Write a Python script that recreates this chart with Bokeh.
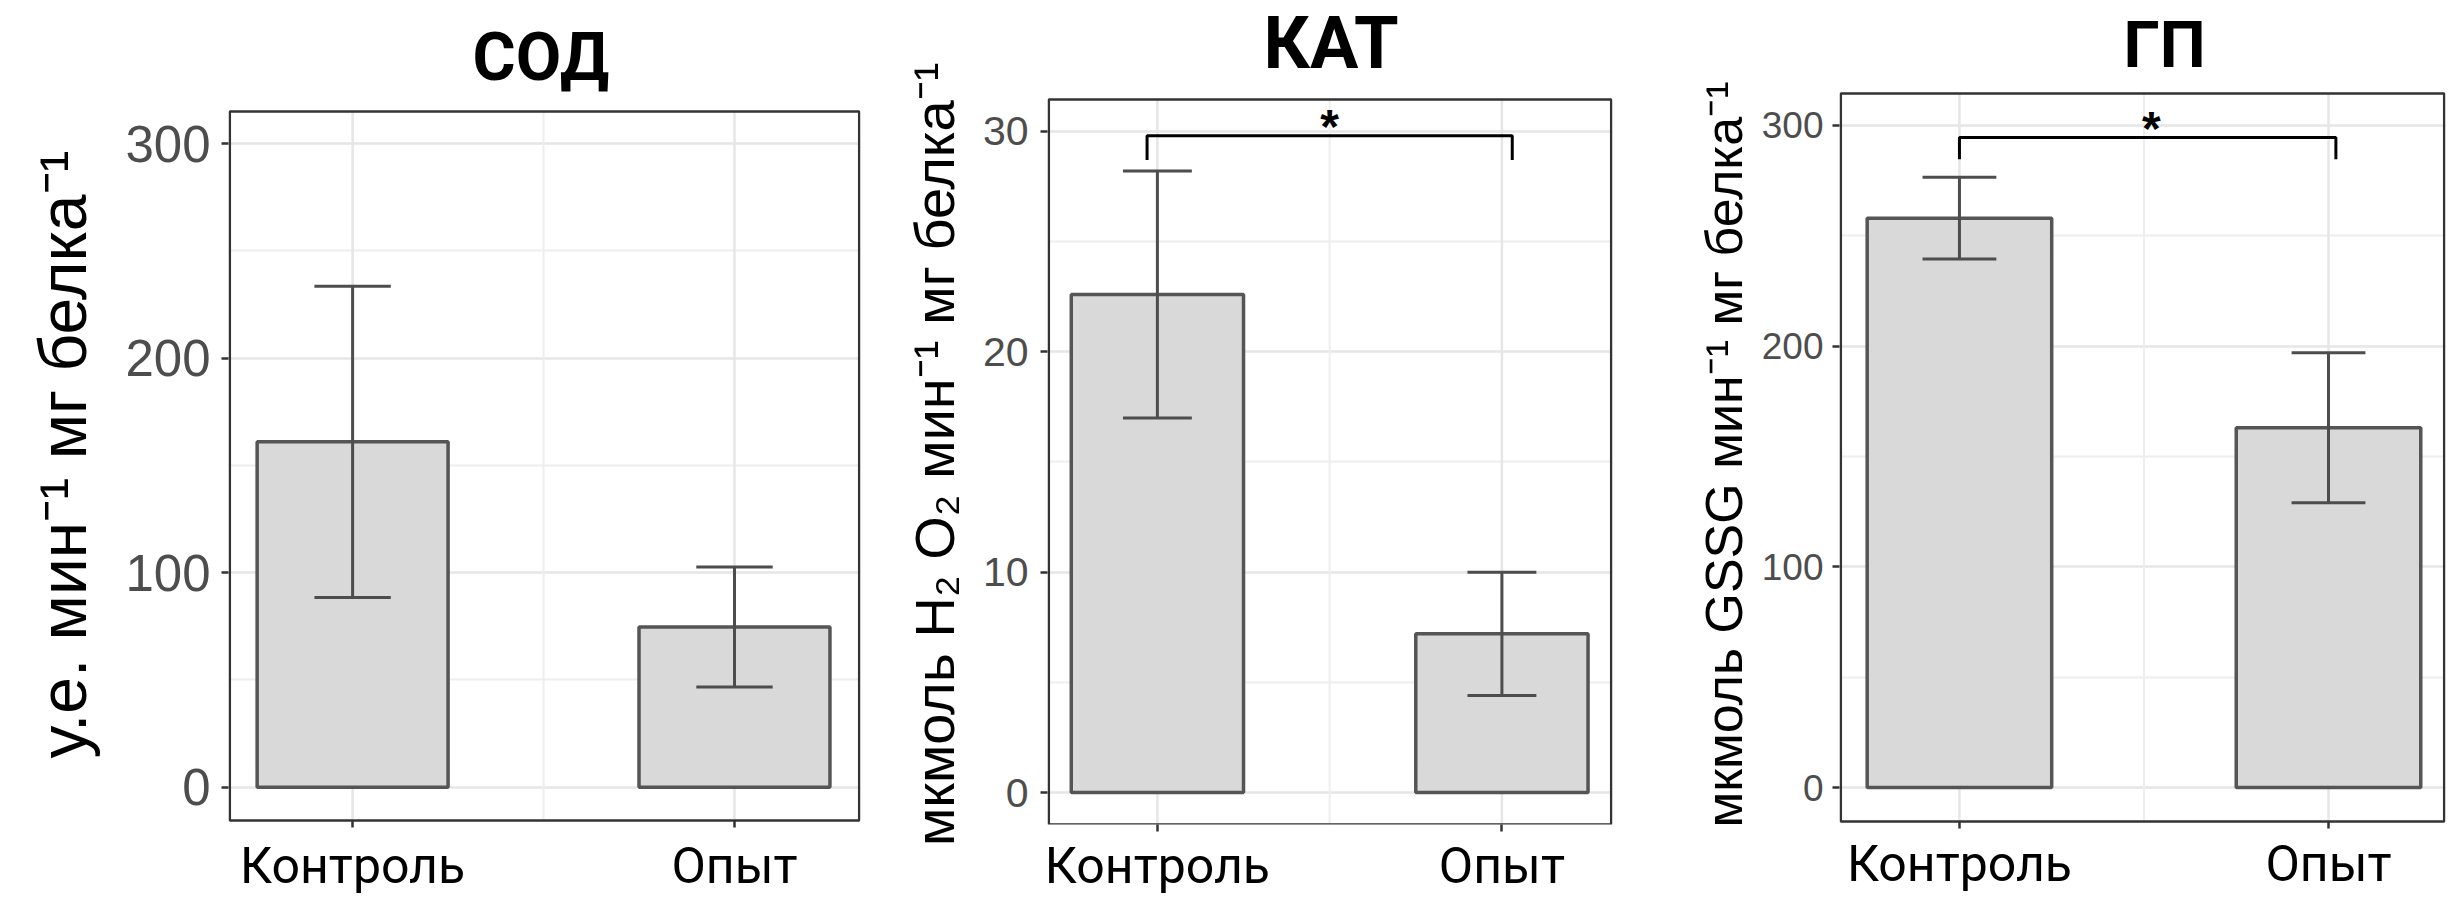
from bokeh.plotting import figure
from bokeh.models import Range1d, FixedTicker, Label, ColumnDataSource
from bokeh.layouts import row
from bokeh.embed import file_html
from bokeh.resources import INLINE

# ---------------- data ----------------
categories = ["Контроль", "Опыт"]

titles = ["СОД", "КАТ", "ГП"]
y_labels = [
    "у.е. мин⁻¹ мг белка⁻¹",
    "мкмоль H₂ O₂ мин⁻¹ мг белка⁻¹",
    "мкмоль GSSG мин⁻¹ мг белка⁻¹",
]

sod_mean = [161.0, 74.7]
sod_err = [72.5, 28.0]
kat_mean = [22.6, 7.2]
kat_err = [5.6, 2.8]
gp_mean = [258.0, 163.0]
gp_err = [18.5, 34.0]

sod_ticks = [0, 100, 200, 300]
kat_ticks = [0, 10, 20, 30]
gp_ticks = [0, 100, 200, 300]

# visible value range of each panel box
sod_box = [-15.5, 315.0]
kat_box = [-1.45, 31.45]
gp_box = [-15.4, 314.5]

# significance brackets: x start, x end, y of bar, y of ends
kat_bracket = [0.97, 2.03, 29.8, 28.7]
gp_bracket = [1.0, 2.02, 294.5, 284.7]
sig_text = "*"

# ---------------- layout constants (pixels) ----------------
H = 897
FRAME_TOP = 83
FRAME_BOTTOM = 825
BORDER = "#333333"


def make_panel(title, ylabel, mean, err, ticks, box, box_px, xr, W, left, right,
               tick_fs, tick_standoff, ylab_fs, ylab_standoff, title_fs, title_offset,
               title_standoff, tick_in, tick_out, xlab_standoff,
               bracket=None, star_x=1.5):
    pt, pb = box_px
    ppu = (pb - pt) / (box[1] - box[0])
    yr = (box[0] - (FRAME_BOTTOM - pb) / ppu, box[1] + (pt - FRAME_TOP) / ppu)

    p = figure(width=W, height=H, x_range=Range1d(*xr), y_range=Range1d(*yr),
               output_backend="svg", toolbar_location=None, title=title,
               min_border_left=left, min_border_right=right,
               min_border_top=FRAME_TOP, min_border_bottom=H - FRAME_BOTTOM)
    p.background_fill_color = "white"
    p.border_fill_color = "white"
    p.outline_line_color = None

    p.title.align = "left"
    p.title.offset = title_offset
    p.title.standoff = title_standoff
    p.title.text_font = "Roboto"
    p.title.text_font_size = f"{title_fs}px"
    p.title.text_font_style = "bold"
    p.title.text_color = "black"

    xs = [i + 1 for i in range(len(categories))]
    src = ColumnDataSource(dict(
        x=xs, top=mean,
        lo=[m - e for m, e in zip(mean, err)],
        hi=[m + e for m, e in zip(mean, err)],
        cl=[x - 0.1 for x in xs], cr=[x + 0.1 for x in xs],
    ))

    step = ticks[1] - ticks[0]
    minor = [t + step / 2 for t in ticks[:-1]]

    # grids
    p.xgrid.visible = False
    p.ygrid.ticker = FixedTicker(ticks=ticks, minor_ticks=minor)
    p.ygrid.grid_line_color = "#e6e6e6"
    p.ygrid.grid_line_width = 2.5
    p.ygrid.minor_grid_line_color = "#eeeeee"
    p.ygrid.minor_grid_line_width = 2
    p.segment(x0=xs, y0=[box[0]] * len(xs), x1=xs, y1=[box[1]] * len(xs),
              line_color="#e6e6e6", line_width=2.5)
    p.segment(x0=[1.5], y0=[box[0]], x1=[1.5], y1=[box[1]],
              line_color="#eeeeee", line_width=2)

    p.vbar(x="x", top="top", bottom=0, width=0.5, source=src,
           fill_color="#d9d9d9", line_color="#555555", line_width=3.5)
    p.segment(x0="x", y0="lo", x1="x", y1="hi", source=src,
              line_color="#4d4d4d", line_width=3)
    p.segment(x0="cl", y0="hi", x1="cr", y1="hi", source=src,
              line_color="#4d4d4d", line_width=3)
    p.segment(x0="cl", y0="lo", x1="cr", y1="lo", source=src,
              line_color="#4d4d4d", line_width=3)

    # panel border
    ppx = (W - left - right) / (xr[1] - xr[0])
    ix = 1.3 / ppx
    p.quad(left=[xr[0] + ix], right=[xr[1] - ix], bottom=[box[0]], top=[box[1]],
           fill_color=None, line_color=BORDER, line_width=2.5)

    # axes
    p.xaxis.ticker = FixedTicker(ticks=xs, minor_ticks=[])
    p.xaxis.major_label_overrides = {x: c for x, c in zip(xs, categories)}
    p.yaxis.ticker = FixedTicker(ticks=ticks, minor_ticks=[])
    for ax in (p.xaxis[0], p.yaxis[0]):
        ax.axis_line_color = None
        ax.major_tick_line_color = BORDER
        ax.major_tick_line_width = 2.5
        ax.minor_tick_line_color = None
    p.yaxis.major_tick_out = 7
    p.yaxis.major_tick_in = 0
    p.xaxis.major_tick_out = tick_out
    p.xaxis.major_tick_in = tick_in
    p.xaxis.major_label_text_font = "Roboto"
    p.xaxis.major_label_text_font_size = "50px"
    p.xaxis.major_label_text_color = "black"
    p.xaxis.major_label_standoff = xlab_standoff

    p.yaxis.major_label_text_font = "Liberation Sans"
    p.yaxis.major_label_text_font_size = f"{tick_fs}px"
    p.yaxis.major_label_text_color = "#4d4d4d"
    p.yaxis.major_label_standoff = tick_standoff
    p.yaxis.axis_label = ylabel
    p.yaxis.axis_label_text_font = "Liberation Sans"
    p.yaxis.axis_label_text_font_size = f"{ylab_fs}px"
    p.yaxis.axis_label_text_font_style = "normal"
    p.yaxis.axis_label_text_color = "black"
    p.yaxis.axis_label_standoff = ylab_standoff

    if bracket is not None:
        x0, x1, yt, ye = bracket
        p.line(x=[x0, x0, x1, x1], y=[ye, yt, yt, ye], line_color="black", line_width=3)
        p.add_layout(Label(x=star_x, y=yt + 9 / ppu, text=sig_text, text_align="center",
                           text_baseline="alphabetic", text_font="Liberation Sans",
                           text_font_style="bold", text_font_size="48px",
                           text_color="black"))
    return p


p1 = make_panel(titles[0], y_labels[0], sod_mean, sod_err, sod_ticks,
                box=sod_box, box_px=(110, 821), xr=(0.675, 2.33), W=888,
                left=228, right=28,
                tick_fs=51, tick_standoff=11, ylab_fs=66, ylab_standoff=22,
                title_fs=66, title_offset=244, title_standoff=-22,
                tick_in=4, tick_out=3, xlab_standoff=9)
p2 = make_panel(titles[1], y_labels[1], kat_mean, kat_err, kat_ticks,
                box=kat_box, box_px=(98, 825), xr=(0.681, 2.321), W=760,
                left=159, right=36,
                tick_fs=41, tick_standoff=12, ylab_fs=56, ylab_standoff=14,
                title_fs=72, title_offset=216, title_standoff=-3,
                tick_in=0, tick_out=7, xlab_standoff=5,
                bracket=kat_bracket, star_x=1.5)
p3 = make_panel(titles[2], y_labels[2], gp_mean, gp_err, gp_ticks,
                box=gp_box, box_px=(92, 822), xr=(0.675, 2.317), W=807,
                left=191, right=10,
                tick_fs=37, tick_standoff=9, ylab_fs=52, ylab_standoff=6,
                title_fs=65, title_offset=284, title_standoff=4,
                tick_in=3, tick_out=4, xlab_standoff=6,
                bracket=gp_bracket, star_x=1.52)

layout = row(p1, p2, p3)
open("out.html", "w").write(file_html(layout, INLINE))
